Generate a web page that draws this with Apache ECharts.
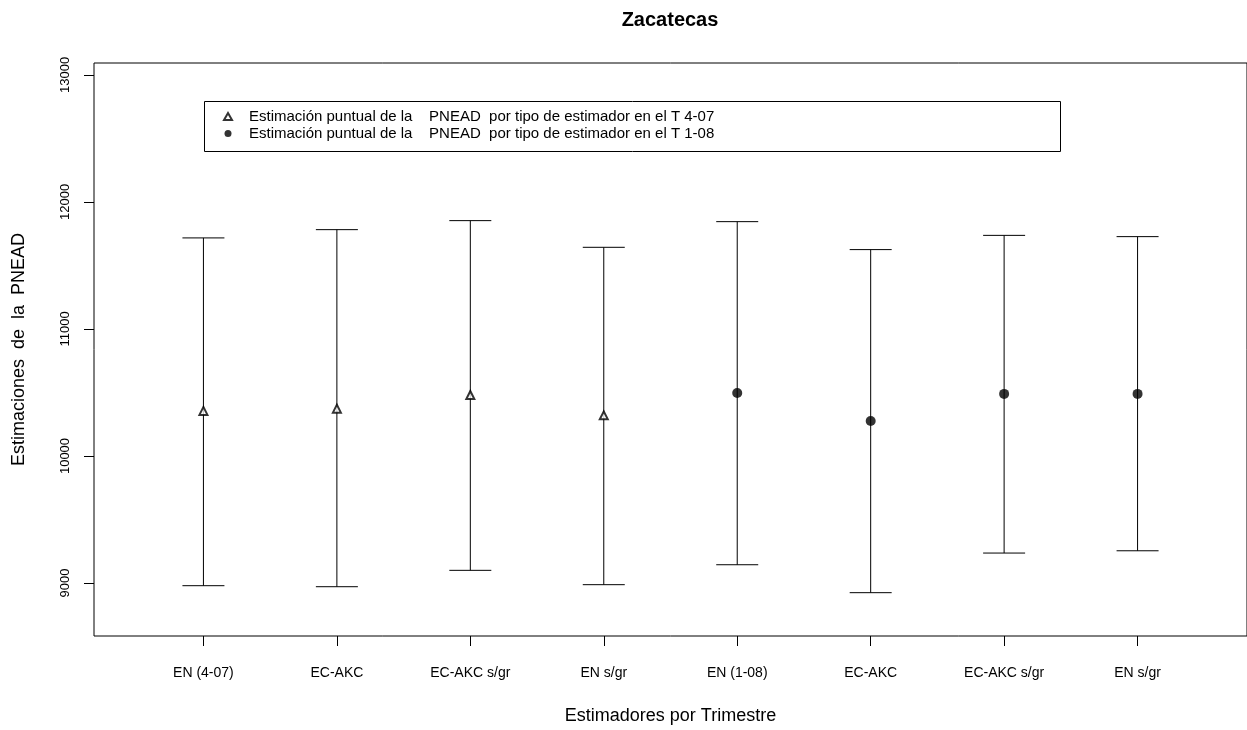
<!DOCTYPE html>
<html>
<head>
<meta charset="utf-8">
<script src="https://cdn.jsdelivr.net/npm/echarts@6/dist/echarts.min.js"></script>
<style>
  html, body { margin: 0; padding: 0; background: #fff; }
  #container { width: 1247px; height: 730px; }
</style>
</head>
<body>
<div id="container"></div>
<script>
(function () {
    // estimators, in plot order
    let categories = ['EN (4-07)', 'EC-AKC', 'EC-AKC s/gr', 'EN s/gr', 'EN (1-08)', 'EC-AKC', 'EC-AKC s/gr', 'EN s/gr'];
    // point estimates
    let pointT407 = [10355, 10373, 10480, 10320];
    let pointT108 = [10496, 10276, 10489, 10489];
    // confidence interval limits
    let lower = [8979, 8971, 9100, 8987, 9144, 8924, 9236, 9254];
    let upper = [11717, 11782, 11853, 11643, 11845, 11625, 11737, 11727];
    let yTicks = [9000, 10000, 11000, 12000, 13000];

    let font = 'Liberation Sans, Arial, sans-serif';
    let dom = document.getElementById('container');
    let myChart = echarts.init(dom);

    let xs = categories.map(function (c, i) { return i + 1; });
    let barData = xs.map(function (x, i) { return [x, lower[i], upper[i]]; });
    let s1 = pointT407.map(function (v, i) { return [i + 1, v]; });
    let s2 = pointT108.map(function (v, i) { return [i + 5, v]; });

    let name1 = 'Estimación puntual de la    PNEAD  por tipo de estimador en el T 4-07';
    let name2 = 'Estimación puntual de la    PNEAD  por tipo de estimador en el T 1-08';

    let option = {
        backgroundColor: '#fff',
        animation: false,
        textStyle: { fontFamily: font, color: '#000' },
        grid: {
            left: 94, right: -3, top: 63, bottom: 93,
            show: true, borderColor: '#000', borderWidth: 1,
            containLabel: false
        },
        graphic: [
            {
                type: 'text', x: 670, y: 20,
                style: {
                    text: 'Zacatecas', fontFamily: font, fontWeight: 'bold', fontSize: 20,
                    fill: '#000', align: 'center', verticalAlign: 'middle'
                }
            },
            {
                type: 'rect', shape: { x: 204.5, y: 101.5, width: 856, height: 50 },
                style: { fill: '#fff', stroke: '#000', lineWidth: 1 }, z: 5
            }
        ],
        legend: {
            orient: 'vertical', left: 223, top: 109, padding: 0,
            itemGap: 2, itemWidth: 8, itemHeight: 7, z: 10,
            data: [name1, name2],
            textStyle: { fontFamily: font, fontSize: 15, color: '#000', padding: [0, 0, 0, 12] }
        },
        xAxis: {
            type: 'value', min: 0.18, max: 8.82,
            name: 'Estimadores por Trimestre', nameLocation: 'middle', nameGap: 71,
            nameTextStyle: { fontFamily: font, fontSize: 18, color: '#000' },
            axisLine: { show: false },
            splitLine: { show: false },
            axisTick: { show: true, customValues: xs, length: 10, lineStyle: { color: '#000' } },
            axisLabel: {
                customValues: xs, margin: 30, fontSize: 14, color: '#000', fontFamily: font,
                formatter: function (v) { return categories[Math.round(v) - 1]; }
            }
        },
        yAxis: {
            type: 'value', min: 8583, max: 13094,
            name: 'Estimaciones  de  la  PNEAD', nameLocation: 'middle', nameGap: 66, nameRotate: 90,
            nameTextStyle: { fontFamily: font, fontSize: 18, color: '#000' },
            axisLine: { show: false },
            splitLine: { show: false },
            axisTick: { show: true, customValues: yTicks, length: 10, lineStyle: { color: '#000' } },
            axisLabel: {
                customValues: yTicks, rotate: 90, margin: 22, fontSize: 13, color: '#000', fontFamily: font,
                formatter: function (v) { return String(Math.round(v)); }
            }
        },
        series: [
            {
                type: 'custom',
                name: 'intervalos',
                data: barData,
                renderItem: function (params, api) {
                    let x = api.value(0);
                    let lo = api.coord([x, api.value(1)]);
                    let hi = api.coord([x, api.value(2)]);
                    let half = 21;
                    let st = { stroke: '#000', lineWidth: 1 };
                    return {
                        type: 'group',
                        children: [
                            { type: 'line', shape: { x1: lo[0], y1: lo[1], x2: hi[0], y2: hi[1] }, style: st },
                            { type: 'line', shape: { x1: lo[0] - half, y1: lo[1], x2: lo[0] + half, y2: lo[1] }, style: st },
                            { type: 'line', shape: { x1: hi[0] - half, y1: hi[1], x2: hi[0] + half, y2: hi[1] }, style: st }
                        ]
                    };
                },
                z: 2
            },
            {
                type: 'scatter', name: name1, data: s1,
                symbol: 'emptyTriangle', symbolSize: 8,
                itemStyle: { color: '#000', borderWidth: 1 }, z: 3
            },
            {
                type: 'scatter', name: name2, data: s2,
                symbol: 'circle', symbolSize: 10,
                itemStyle: { color: '#000' }, z: 3
            }
        ]
    };
    myChart.setOption(option);
})();
</script>
</body>
</html>
